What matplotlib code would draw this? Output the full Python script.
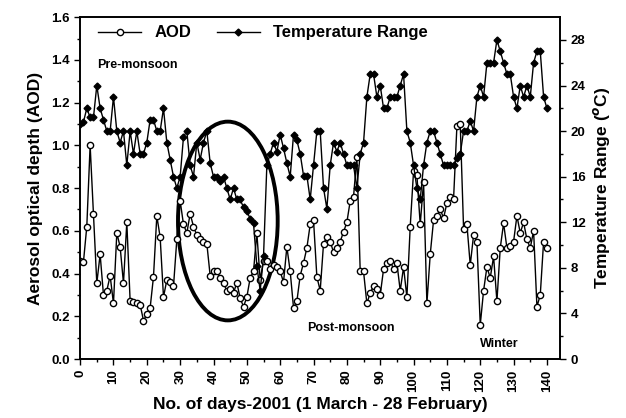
import numpy as np
import matplotlib.pyplot as plt
from matplotlib.patches import Ellipse

plt.rcParams['font.family'] = ['Liberation Sans', 'DejaVu Sans']
plt.rcParams['font.weight'] = 'bold'

# daily values, day 0 = 1 March 2001
days = np.arange(0, 141)

aod = [0.46, 0.455, 0.62, 1.0, 0.68, 0.355, 0.49, 0.30, 0.32, 0.39,
       0.26, 0.59, 0.525, 0.355, 0.64, 0.27, 0.265, 0.26, 0.255, 0.18,
       0.21, 0.24, 0.385, 0.67, 0.57, 0.29, 0.37, 0.36, 0.34, 0.56,
       0.74, 0.63, 0.59, 0.68, 0.62, 0.58, 0.56, 0.55, 0.54, 0.39,
       0.41, 0.41, 0.38, 0.355, 0.32, 0.33, 0.31, 0.357, 0.285, 0.245,
       0.29, 0.38, 0.41, 0.59, 0.37, 0.46, 0.46, 0.42, 0.44, 0.43,
       0.41, 0.36, 0.525, 0.41, 0.24, 0.27, 0.39, 0.45, 0.52, 0.63,
       0.65, 0.385, 0.32, 0.54, 0.57, 0.55, 0.50, 0.52, 0.55, 0.595,
       0.64, 0.74, 0.76, 0.946, 0.41, 0.41, 0.26, 0.31, 0.34, 0.33,
       0.30, 0.42, 0.45, 0.46, 0.42, 0.45, 0.32, 0.43, 0.29, 0.62,
       0.88, 0.86, 0.63, 0.83, 0.26, 0.49, 0.65, 0.67, 0.70, 0.66,
       0.73, 0.76, 0.75, 1.09, 1.10, 0.61, 0.63, 0.44, 0.58, 0.55,
       0.16, 0.32, 0.43, 0.38, 0.48, 0.27, 0.52, 0.635, 0.52, 0.53,
       0.55, 0.67, 0.59, 0.64, 0.56, 0.52, 0.60, 0.245, 0.30, 0.55,
       0.52]

temp = [20.6, 20.8, 22, 21.2, 21.2, 24, 22, 21, 20, 20,
        23, 20, 19, 20, 17, 20, 18, 20, 18, 18,
        19, 21, 21, 20, 20, 22, 19, 17.5, 16, 15,
        16, 19.5, 20, 17, 16, 19, 17.5, 19, 20, 17.2,
        16, 16, 15.6, 16, 15, 14, 15, 14, 14, 13.3,
        13, 12.3, 11.9, 8.2, 6.0, 9.0, 17, 18, 19, 18.2,
        19.7, 18.5, 17.2, 16, 19.7, 19.2, 18, 16.1, 16.1, 14,
        17, 20, 20, 15, 13.2, 17, 19, 18.2, 19, 18,
        17, 17, 17, 15, 18, 19, 23, 25, 25, 23,
        24, 22, 22, 23, 23, 23, 24, 25, 20, 19,
        17, 15, 14, 17, 19, 20, 20, 19, 18, 17,
        17, 17, 17, 17.6, 18, 20, 20, 20.9, 20, 23,
        24, 23, 26, 26, 26, 28, 27, 26, 25, 25,
        23, 22, 24, 23, 24, 23, 26, 27, 27, 23,
        22]

fig = plt.figure(figsize=(6.26, 4.18), dpi=100)
ax = fig.add_axes([0.128, 0.141, 0.767, 0.818])
ax2 = ax.twinx()

l1, = ax.plot(days, aod, '-', color='black', lw=1, marker='o', ms=4.5,
              mfc='white', mec='black', mew=1, label='AOD')
l2, = ax2.plot(days, temp, '-', color='black', lw=1, marker='D', ms=3.5,
               mfc='black', mec='black', label='Temperature Range')

ax.set_xlim(0, 144)
ax.set_ylim(0, 1.6)
ax2.set_ylim(0, 30)

ax.set_xticks(np.arange(0, 141, 10))
ax.set_xticks(np.arange(0, 144, 5), minor=True)
ax.set_yticks(np.arange(0, 1.61, 0.2))
ax.set_yticks(np.arange(0, 1.61, 0.1), minor=True)
ax2.set_yticks(np.arange(0, 29, 4))
ax2.set_yticks(np.arange(0, 30, 2), minor=True)

ax.set_yticklabels(['%.1f' % v for v in np.arange(0, 1.61, 0.2)], fontsize=9.5, fontweight='bold')
ax.set_xticklabels([str(v) for v in range(0, 141, 10)], rotation=90, fontsize=9.5, fontweight='bold')
ax2.set_yticklabels([str(v) for v in range(0, 29, 4)], fontsize=9.5, fontweight='bold')

for a in (ax, ax2):
    a.tick_params(which='major', direction='out', length=4, width=1)
    a.tick_params(which='minor', direction='out', length=2.5, width=1)
    for s in a.spines.values():
        s.set_linewidth(1.2)

ax.set_xlabel('No. of days-2001 (1 March - 28 February)', fontsize=12.5, fontweight='bold', labelpad=4)
ax.set_ylabel('Aerosol optical depth (AOD)', fontsize=12.5, fontweight='bold', labelpad=6)
ax2.set_ylabel('Temperature Range ($^o$C)', fontsize=12.5, fontweight='bold')

ax.text(5, 1.36, 'Pre-monsoon', fontsize=9, fontweight='bold')
ax.text(68, 0.13, 'Post-monsoon', fontsize=9, fontweight='bold')
ax.text(120, 0.055, 'Winter', fontsize=9, fontweight='bold')

ell = Ellipse((44.3, 0.646), 29.9, 0.93, fill=False, lw=2.8, ec='black')
ax.add_patch(ell)

ax.legend([l1, l2], ['AOD', 'Temperature Range'], loc='upper left', ncol=2,
          frameon=False, handlelength=2.6, columnspacing=1.5,
          borderaxespad=0.1, bbox_to_anchor=(0.02, 1.0), prop={'weight': 'bold', 'size': 12})

fig.savefig('out.png', dpi=100)
